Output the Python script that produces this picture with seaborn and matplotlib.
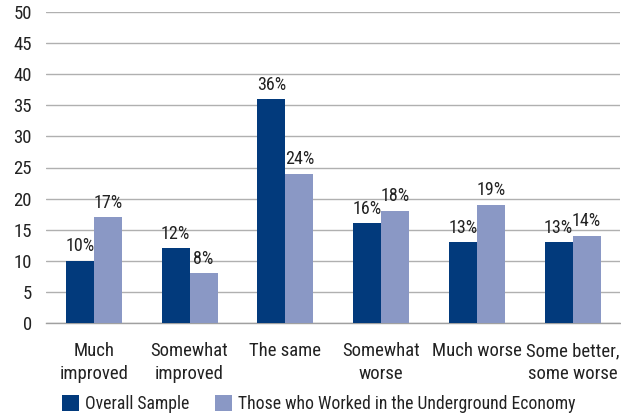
import matplotlib
matplotlib.use("Agg")
import matplotlib.pyplot as plt
import seaborn as sns
import pandas as pd
from matplotlib.patches import Patch

categories = ["Much\nimproved", "Somewhat\nimproved", "The same", "Somewhat\nworse",
              "Much worse", "Some better,\nsome worse"]
series_names = ["Overall Sample", "Those who Worked in the Underground Economy"]
overall = [10, 12, 36, 16, 13, 13]
underground = [17, 8, 24, 18, 19, 14]
y_ticks = [0, 5, 10, 15, 20, 25, 30, 35, 40, 45, 50]

colors = ["#023a7c", "#8a98c5"]

df = pd.DataFrame({
    "category": categories * 2,
    "series": [series_names[0]] * 6 + [series_names[1]] * 6,
    "value": overall + underground,
})

sns.set_style("white")
font = ["Roboto Condensed", "Liberation Sans", "DejaVu Sans"]
plt.rcParams["font.family"] = font

fig = plt.figure(figsize=(6.21, 4.17), dpi=100)
ax = fig.add_axes([46 / 621, 1 - 323 / 417, 1 - 46 / 621 - 0.001, (323 - 12) / 417])

sns.barplot(data=df, x="category", y="value", hue="series", order=categories,
            hue_order=series_names, palette=colors, width=0.585, gap=0,
            saturation=1, ax=ax, legend=False, zorder=3, linewidth=0, edgecolor="none")

for container in ax.containers:
    labels = [f"{int(round(b.get_height()))}%" for b in container]
    ax.bar_label(container, labels=labels, padding=4, fontsize=13, color="#222222")

ax.set_ylim(0, 50)
ax.set_xlim(-0.5, 5.5)
ax.set_yticks(y_ticks)
ax.yaxis.grid(True, color="#b0b0b0", linewidth=1, zorder=0)
ax.set_axisbelow(True)
for s in ["top", "right", "left"]:
    ax.spines[s].set_visible(False)
ax.spines["bottom"].set_color("#a0a0a0")
ax.spines["bottom"].set_linewidth(1)

ax.tick_params(axis="y", length=0, pad=10, labelsize=13.5, labelcolor="#222222")
ax.tick_params(axis="x", which="major", length=0, pad=14, labelsize=13.5, labelcolor="#222222")
ax.set_xticks([i - 0.5 for i in range(7)], minor=True)
ax.tick_params(axis="x", which="minor", length=5, width=1, color="#a0a0a0", direction="out")
for lbl in ax.get_xticklabels():
    lbl.set_linespacing(1.3)
ax.set_xlabel("")
ax.set_ylabel("")

handles = [Patch(facecolor=c, edgecolor="none") for c in colors]
fig.legend(handles, series_names, loc="center left", bbox_to_anchor=(62 / 621, 1 - 404 / 417),
           ncol=2, frameon=False, fontsize=12.7, handlelength=0.95, handleheight=1.0,
           handletextpad=0.35, columnspacing=1.45, labelcolor="#222222", borderpad=0,
           borderaxespad=0)

fig.savefig("out.png", dpi=100)
